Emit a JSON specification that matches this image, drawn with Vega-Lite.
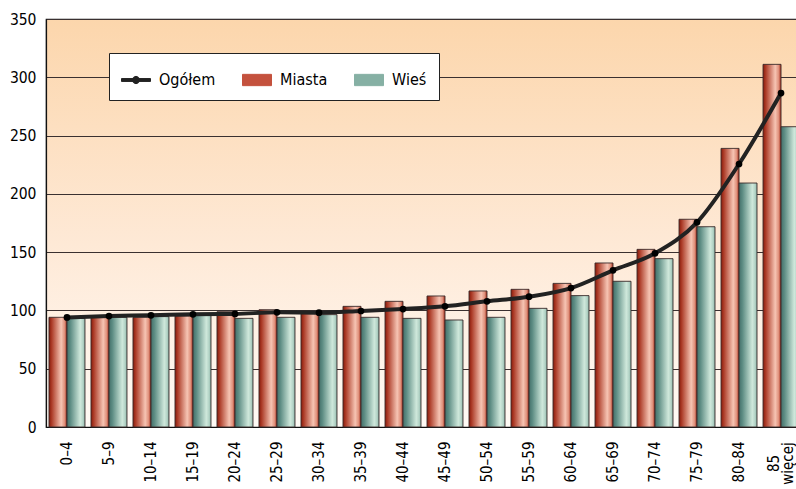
{
  "$schema": "https://vega.github.io/schema/vega-lite/v6.json",
  "autosize": "none",
  "width": 756,
  "height": 408,
  "padding": {"left": 46, "top": 19, "right": 0, "bottom": 62},
  "background": "white",
  "data": {
    "values": [
      {"age": "0–4", "Miasta": 94.1, "Wieś": 93.2, "Ogółem": 94.0},
      {"age": "5–9", "Miasta": 94.1, "Wieś": 94.1, "Ogółem": 95.2},
      {"age": "10–14", "Miasta": 94.1, "Wieś": 94.7, "Ogółem": 95.8},
      {"age": "15–19", "Miasta": 95.2, "Wieś": 95.8, "Ogółem": 96.7},
      {"age": "20–24", "Miasta": 98.9, "Wieś": 93.2, "Ogółem": 97.0},
      {"age": "25–29", "Miasta": 100.6, "Wieś": 94.1, "Ogółem": 98.4},
      {"age": "30–34", "Miasta": 98.4, "Wieś": 96.4, "Ogółem": 98.1},
      {"age": "35–39", "Miasta": 103.5, "Wieś": 94.1, "Ogółem": 99.5},
      {"age": "40–44", "Miasta": 107.8, "Wieś": 93.2, "Ogółem": 101.2},
      {"age": "45–49", "Miasta": 112.4, "Wieś": 91.8, "Ogółem": 103.5},
      {"age": "50–54", "Miasta": 116.7, "Wieś": 94.1, "Ogółem": 107.8},
      {"age": "55–59", "Miasta": 118.1, "Wieś": 101.8, "Ogółem": 111.8},
      {"age": "60–64", "Miasta": 123.2, "Wieś": 112.7, "Ogółem": 119.2},
      {"age": "65–69", "Miasta": 140.7, "Wieś": 125.0, "Ogółem": 134.4},
      {"age": "70–74", "Miasta": 152.4, "Wieś": 144.4, "Ogółem": 149.0},
      {"age": "75–79", "Miasta": 178.2, "Wieś": 171.8, "Ogółem": 175.6},
      {"age": "80–84", "Miasta": 239.0, "Wieś": 209.3, "Ogółem": 225.6},
      {"age": "85 więcej", "Miasta": 311.1, "Wieś": 257.6, "Ogółem": 286.5}
    ]
  },
  "encoding": {
    "x": {
      "field": "age",
      "type": "nominal",
      "sort": null,
      "title": null,
      "scale": {"paddingInner": 0.143, "paddingOuter": 0.071},
      "axis": {
        "labelAngle": -90,
        "labelFontSize": 15,
        "labelPadding": {"condition": {"test": "datum.value === '85 więcej'", "value": 36}, "value": 14},
        "labelAlign": {"condition": {"test": "datum.value === '85 więcej'", "value": "center"}, "value": "right"},
        "labelOffset": {"condition": {"test": "datum.value === '85 więcej'", "value": -7}, "value": 0},
        "labelLineHeight": 14,
        "ticks": false,
        "domainColor": "#111",
        "domainWidth": 1.2,
        "labelExpr": "datum.value === '85 więcej' ? ['85', 'więcej'] : datum.value"
      }
    }
  },
  "layer": [
    {
      "transform": [{"fold": ["Miasta", "Wieś"], "as": ["series", "val"]}],
      "mark": {"type": "bar", "stroke": "#3a2a2a", "strokeWidth": 0.9},
      "encoding": {
        "xOffset": {"field": "series", "type": "nominal", "sort": ["Miasta", "Wieś"], "scale": {"paddingInner": 0, "paddingOuter": 0}},
        "y": {
          "field": "val",
          "type": "quantitative",
          "title": null,
          "scale": {"domain": [0, 350], "nice": false},
          "axis": {
            "values": [0, 50, 100, 150, 200, 250, 300, 350],
            "labelFontSize": 15.5,
            "labelPadding": 10,
            "ticks": false,
            "grid": true,
            "gridColor": "#3a3030",
            "gridWidth": 1,
            "domainColor": "#111",
            "domainWidth": 1.2
          }
        },
        "fill": {
          "condition": {
            "test": "datum.series === 'Miasta'",
            "value": {"gradient": "linear", "x1": 0, "y1": 0, "x2": 1, "y2": 0, "stops": [
              {"offset": 0, "color": "#861a0b"},
              {"offset": 0.15, "color": "#ac3b27"},
              {"offset": 0.68, "color": "#f6c4b3"},
              {"offset": 0.87, "color": "#df907b"},
              {"offset": 1, "color": "#a22a18"}
            ]}
          },
          "value": {"gradient": "linear", "x1": 0, "y1": 0, "x2": 1, "y2": 0, "stops": [
            {"offset": 0, "color": "#43706a"},
            {"offset": 0.2, "color": "#5f8e85"},
            {"offset": 0.74, "color": "#cfe8db"},
            {"offset": 0.9, "color": "#b2d2c5"},
            {"offset": 1, "color": "#85afa3"}
          ]}
        }
      }
    },
    {
      "mark": {"type": "line", "interpolate": "monotone", "strokeWidth": 4, "point": {"filled": true, "size": 45, "fill": "#000", "stroke": null}},
      "encoding": {
        "y": {"field": "Ogółem", "type": "quantitative"},
        "color": {
          "datum": "Ogółem",
          "type": "nominal",
          "scale": {"domain": ["Ogółem", "Miasta", "Wieś"], "range": ["#222222", "#c4513d", "#86b0a4"]},
          "legend": {
            "title": null,
            "orient": "none",
            "legendX": 63,
            "legendY": 34,
            "direction": "horizontal",
            "fillColor": "white",
            "strokeColor": "#222",
            "padding": 12,
            "columnPadding": 24,
            "labelFontSize": 16,
            "labelOffset": 8,
            "symbolSize": 841,
            "encode": {
              "symbols": {
                "update": {
                  "shape": {"signal": "datum.value === 'Ogółem' ? 'M-1,-0.1H1V0.1H-1Z M-0.25,0A0.25,0.25,0,1,1,0.25,0A0.25,0.25,0,1,1,-0.25,0Z' : 'M-1,-0.39H1V0.39H-1Z'"},
                  "stroke": {"signal": "datum.value === 'Ogółem' ? null : '#333'"},
                  "strokeWidth": {"value": 1},
                  "opacity": {"value": 1},
                  "fillOpacity": {"value": 1}
                }
              }
            }
          }
        }
      }
    }
  ],
  "config": {
    "font": "DejaVu Sans Condensed, sans-serif",
    "view": {
      "stroke": "#1a1a1a",
      "strokeWidth": 1.2,
      "fill": {"gradient": "linear", "x1": 0, "y1": 0, "x2": 0, "y2": 1, "stops": [{"offset": 0, "color": "#fcd6ac"}, {"offset": 0.55, "color": "#fee9d6"}, {"offset": 1, "color": "#fffaf5"}]}
    },
    "axis": {"labelColor": "#000", "labelFont": "DejaVu Sans Condensed, sans-serif"},
    "legend": {"labelColor": "#000", "labelFont": "DejaVu Sans Condensed, sans-serif"}
  }
}
